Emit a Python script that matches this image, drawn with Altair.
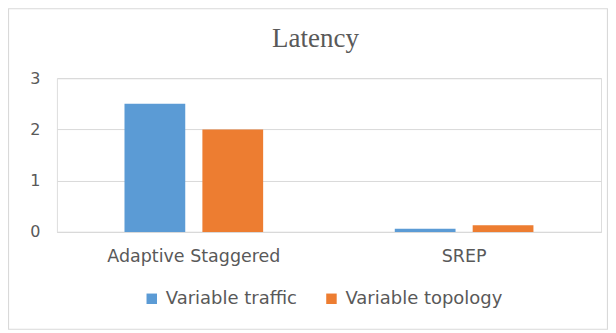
import altair as alt
import pandas as pd

categories = ["Adaptive Staggered", "SREP"]
series = ["Variable traffic", "Variable topology"]
variable_traffic = [2.5, 0.06]
variable_topology = [2.0, 0.13]
y_ticks = [0, 1, 2, 3]
chart_title = "Latency"

rows = []
for i, c in enumerate(categories):
    rows.append({"category": c, "series": series[0], "value": variable_traffic[i]})
    rows.append({"category": c, "series": series[1], "value": variable_topology[i]})
df = pd.DataFrame(rows)

label_font = "DejaVu Sans"
gray = "#595959"

bars = alt.Chart(df).mark_bar().encode(
    x=alt.X("category:N", sort=categories, title=None,
            scale=alt.Scale(paddingInner=0.487, paddingOuter=0.25),
            axis=alt.Axis(labelAngle=0, labelFont=label_font, labelFontSize=17.5,
                          labelColor=gray, labelPadding=16, ticks=False,
                          domainColor="#d9d9d9", domainWidth=1)),
    xOffset=alt.XOffset("series:N", sort=series,
                        scale=alt.Scale(paddingInner=0.22, paddingOuter=0)),
    y=alt.Y("value:Q", title=None,
            scale=alt.Scale(domain=[0, 3], nice=False),
            axis=alt.Axis(values=y_ticks, format="d", labelFont=label_font,
                          labelFontSize=16, labelColor=gray, labelPadding=17,
                          ticks=False, domain=False, gridColor="#d9d9d9")),
    color=alt.Color("series:N", sort=series,
                    scale=alt.Scale(domain=series, range=["#5b9bd5", "#ed7d31"]),
                    legend=alt.Legend(title=None, orient="none", direction="horizontal",
                                      legendX=86, legendY=212, symbolType="square",
                                      symbolSize=110, symbolStrokeWidth=0,
                                      labelFont=label_font, labelFontSize=18,
                                      labelColor=gray, labelOffset=5,
                                      columnPadding=25)),
)

one_row = pd.DataFrame({"t": [chart_title]})
border = alt.Chart(one_row).mark_rect(fill=None, stroke="#d9d9d9", strokeWidth=1.2).encode(
    x=alt.value(-48.5), x2=alt.value(551.5), y=alt.value(-69.5), y2=alt.value(251.5)
)
title = alt.Chart(one_row).mark_text(font="Liberation Serif", fontSize=27, color=gray,
                                     align="center", baseline="alphabetic").encode(
    x=alt.value(259), y=alt.value(-31), text="t:N"
)

chart = alt.layer(border, title, bars).properties(
    width=545, height=154,
    padding={"left": 49, "right": 7, "top": 70, "bottom": 98},
    autosize=alt.AutoSizeParams(type="none"),
).configure_view(stroke=None).configure(background="white")

chart.save("out.html", embed_options={"renderer": "svg", "actions": False})
